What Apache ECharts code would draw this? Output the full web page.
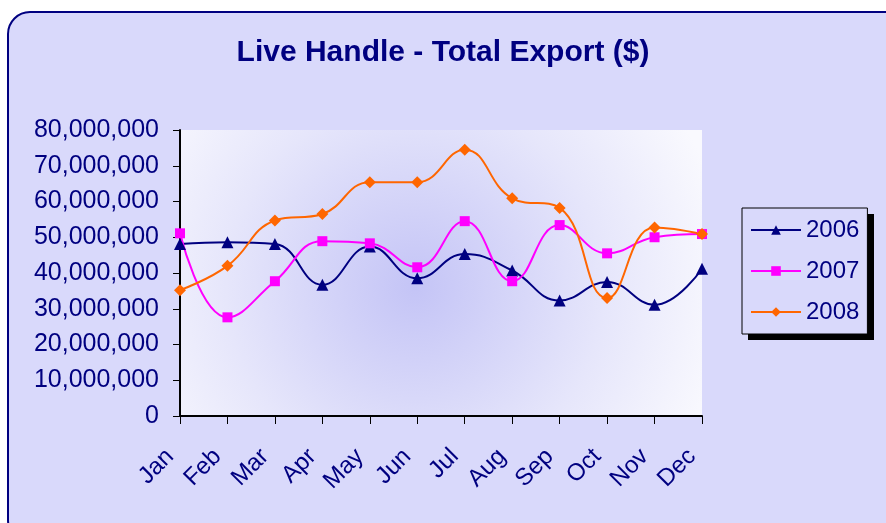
<!DOCTYPE html>
<html>
<head>
<meta charset="utf-8">
<script src="https://cdn.jsdelivr.net/npm/echarts@6/dist/echarts.min.js"></script>
<style>
  html, body { margin: 0; padding: 0; background: #ffffff; }
  #chart { width: 886px; height: 523px; }
</style>
</head>
<body>
<div id="chart"></div>
<script>
// values
const months = ['Jan', 'Feb', 'Mar', 'Apr', 'May', 'Jun', 'Jul', 'Aug', 'Sep', 'Oct', 'Nov', 'Dec'];
const exports2006 = [48100000, 48600000, 48100000, 36700000, 47400000, 38500000, 45300000, 40700000, 32300000, 37500000, 31100000, 41200000];
const exports2007 = [51100000, 27600000, 37700000, 48900000, 48300000, 41600000, 54500000, 37700000, 53400000, 45500000, 50000000, 50900000];
const exports2008 = [35200000, 42000000, 54700000, 56500000, 65400000, 65400000, 74500000, 60900000, 58200000, 33000000, 52700000, 50900000];
const yTicks = { min: 0, max: 80000000, step: 10000000 };

const navy = '#000080';
const font = 'Liberation Sans, Arial, sans-serif';

function fmt(v) {
  return String(v).replace(/\B(?=(\d{3})+(?!\d))/g, ',');
}

function lineSeries(name, data, color, symbol, size) {
  return {
    name: name,
    type: 'line',
    data: data,
    smooth: 0.45,
    symbol: symbol,
    symbolSize: size,
    showAllSymbol: true,
    lineStyle: { color: color, width: 2 },
    itemStyle: { color: color },
    z: 3
  };
}

const chart = echarts.init(document.getElementById('chart'));

chart.setOption({
  animation: false,
  backgroundColor: '#ffffff',
  graphic: [
    {
      type: 'rect',
      z: -10,
      shape: { x: 8, y: 12, width: 900, height: 530, r: 22 },
      style: { fill: '#d9d9fb', stroke: navy, lineWidth: 2 }
    },
    {
      type: 'rect',
      z: -5,
      shape: { x: 748, y: 214, width: 126, height: 126 },
      style: { fill: '#000000' }
    }
  ],
  title: {
    text: 'Live Handle - Total Export ($)',
    left: 'center',
    top: 33,
    textStyle: { color: navy, fontFamily: font, fontSize: 30, fontWeight: 'bold' }
  },
  legend: {
    orient: 'vertical',
    left: 742,
    top: 208,
    width: 126,
    padding: [10, 8, 10, 8],
    itemGap: 17,
    itemWidth: 50,
    itemHeight: 12,
    backgroundColor: '#d9d9fb',
    borderColor: '#000000',
    borderWidth: 1,
    textStyle: { color: navy, fontFamily: font, fontSize: 24, lineHeight: 24 },
    data: ['2006', '2007', '2008']
  },
  grid: {
    left: 180,
    top: 130,
    width: 522,
    height: 286,
    show: true,
    borderWidth: 0,
    backgroundColor: {
      type: 'radial',
      x: 0.45,
      y: 0.55,
      r: 1.1,
      colorStops: [
        { offset: 0, color: '#c4c4f6' },
        { offset: 0.6, color: '#e6e6fb' },
        { offset: 1, color: '#f9f9fe' }
      ]
    }
  },
  xAxis: {
    type: 'category',
    data: months,
    boundaryGap: false,
    axisLine: { lineStyle: { color: '#000000', width: 2 } },
    axisTick: { show: true, length: 8, lineStyle: { color: '#000000' } },
    axisLabel: {
      rotate: 45,
      margin: 27,
      padding: [0, 14, 0, 0],
      color: navy,
      fontFamily: font,
      fontSize: 24,
      interval: 0
    },
    splitLine: { show: false }
  },
  yAxis: {
    type: 'value',
    min: yTicks.min,
    max: yTicks.max,
    interval: yTicks.step,
    axisLine: { show: true, lineStyle: { color: '#000000', width: 2 } },
    axisTick: { show: true, length: 7, lineStyle: { color: '#000000' } },
    axisLabel: {
      margin: 21,
      color: navy,
      fontFamily: font,
      fontSize: 25,
      formatter: fmt
    },
    splitLine: { show: false }
  },
  series: [
    lineSeries('2006', exports2006, navy, 'triangle', 12),
    lineSeries('2007', exports2007, '#ff00ff', 'rect', 10),
    lineSeries('2008', exports2008, '#ff6600', 'diamond', 12)
  ]
});
</script>
</body>
</html>
